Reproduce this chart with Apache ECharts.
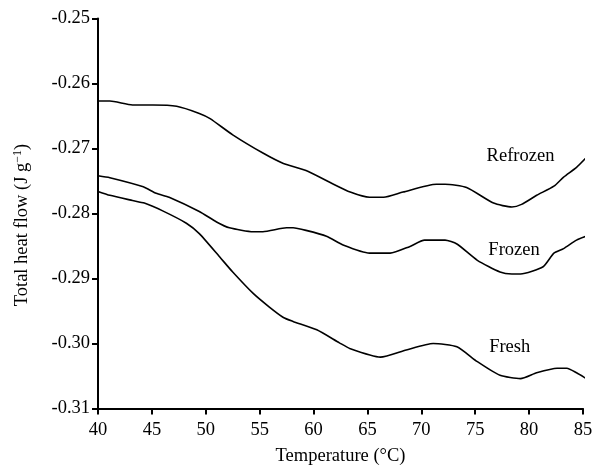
<!DOCTYPE html>
<html><head><meta charset="utf-8">
<script src="https://cdn.jsdelivr.net/npm/echarts@6/dist/echarts.min.js"></script>
<style>html,body{margin:0;padding:0;background:#fff}#c{width:595px;height:466px}</style>
</head><body><div id="c"></div>
<script>
var xTicks = [40, 45, 50, 55, 60, 65, 70, 75, 80, 85];
var yTicks = [-0.25, -0.26, -0.27, -0.28, -0.29, -0.30, -0.31];
var refrozenT = [40, 41.1, 43.2, 45.1, 47.3, 49.4, 50.4, 52.5, 55.3, 57.2, 59.3, 61.5, 63.4, 65.2, 66.5, 68.3, 71.4, 72.2, 74.2, 76.7, 78.4, 79.3, 80.7, 82.3, 83.2, 84.4, 85.3];
var refrozenV = [-0.2627, -0.2627, -0.2633, -0.2633, -0.2635, -0.2646, -0.2654, -0.2679, -0.2707, -0.2723, -0.2734, -0.2752, -0.2767, -0.2775, -0.2775, -0.2767, -0.2755, -0.2755, -0.2760, -0.2784, -0.2790, -0.2786, -0.2772, -0.2758, -0.2744, -0.2729, -0.2714];
var frozenT = [40, 41.1, 44.2, 45.4, 46.6, 49.4, 51.0, 52.2, 54.4, 55.3, 57.5, 58.1, 59.3, 61.2, 62.8, 65.2, 67.1, 68.9, 70.3, 72.2, 73.3, 75.2, 77.3, 78.4, 79.2, 81.3, 82.3, 83.2, 84.4, 85.3];
var frozenV = [-0.2742, -0.2745, -0.2759, -0.2769, -0.2775, -0.2797, -0.2813, -0.2822, -0.2828, -0.2828, -0.2822, -0.2822, -0.2826, -0.2835, -0.2849, -0.2861, -0.2861, -0.2851, -0.2841, -0.2841, -0.2847, -0.2872, -0.2890, -0.2893, -0.2893, -0.2882, -0.2861, -0.2854, -0.2841, -0.2835];
var freshT = [40, 41.1, 43.2, 44.3, 46.0, 48.2, 49.4, 51.3, 52.5, 54.4, 55.9, 57.2, 58.1, 60.3, 62.4, 63.4, 66.2, 68.6, 71.1, 73.3, 75.2, 77.3, 79.2, 80.7, 82.6, 83.5, 84.4, 85.3];
var freshV = [-0.2766, -0.2772, -0.2780, -0.2784, -0.2796, -0.2815, -0.2831, -0.2867, -0.2890, -0.2923, -0.2944, -0.2960, -0.2966, -0.2979, -0.2999, -0.3008, -0.3021, -0.3010, -0.3000, -0.3005, -0.3028, -0.3049, -0.3054, -0.3045, -0.3038, -0.3038, -0.3045, -0.3054];
var seriesNames = ['Refrozen', 'Frozen', 'Fresh'];
var labelPos = [[79.2, -0.2712], [78.6, -0.2857], [78.2, -0.3006]];

function pairs(t, v) { return t.map(function (x, i) { return [x, v[i]]; }); }
var FONT = 'Liberation Serif';
var FS = 18.5;
var chart = echarts.init(document.getElementById('c'), null, {renderer: 'canvas'});
var datas = [pairs(refrozenT, refrozenV), pairs(frozenT, frozenV), pairs(freshT, freshV)];
var series = datas.map(function (d, i) {
  return {
    type: 'line', name: seriesNames[i], data: d, showSymbol: false, symbol: 'none',
    clip: false, smooth: 0.2,
    lineStyle: {color: '#000', width: 1.6},
    markPoint: {
      symbol: 'circle', symbolSize: 0, silent: true,
      data: [{coord: labelPos[i], value: seriesNames[i]}],
      label: {show: true, position: 'inside', formatter: seriesNames[i], color: '#000', fontFamily: FONT, fontSize: FS}
    }
  };
});
chart.setOption({
  animation: false,
  backgroundColor: '#fff',
  grid: {left: 98, right: 12, top: 18.5, bottom: 57.5, containLabel: false, outerBoundsMode: 'none'},
  xAxis: {
    type: 'value', min: 40, max: 85, interval: 5,
    name: 'Temperature (°C)', nameLocation: 'middle', nameGap: 38,
    nameTextStyle: {color: '#000', fontFamily: FONT, fontSize: FS},
    axisLine: {lineStyle: {color: '#000', width: 2}},
    axisTick: {show: true, length: 6, lineStyle: {color: '#000', width: 2}},
    axisLabel: {color: '#000', fontFamily: FONT, fontSize: FS, margin: 12,
      formatter: function (v) { return xTicks.indexOf(v) >= 0 ? String(v) : ''; }},
    splitLine: {show: false}
  },
  yAxis: {
    type: 'value', min: -0.31, max: -0.25, interval: 0.01,
    axisLine: {show: true, lineStyle: {color: '#000', width: 2}},
    axisTick: {show: true, length: 6, lineStyle: {color: '#000', width: 2}},
    axisLabel: {color: '#000', fontFamily: FONT, fontSize: FS, margin: 8,
      formatter: function (v) { return v.toFixed(2); }},
    splitLine: {show: false}
  },
  graphic: [{
    type: 'text', x: 22, y: 225, rotation: Math.PI / 2,
    style: {
      text: '{a|Total heat flow (J g}{s|−1}{a|)}',
      rich: {
        a: {fontFamily: FONT, fontSize: FS, fill: '#000'},
        s: {fontFamily: FONT, fontSize: 12, fill: '#000', verticalAlign: 'top', padding: [0, 0, 9, 0]}
      },
      align: 'center', verticalAlign: 'middle'
    }
  }],
  series: series
});
</script></body></html>
